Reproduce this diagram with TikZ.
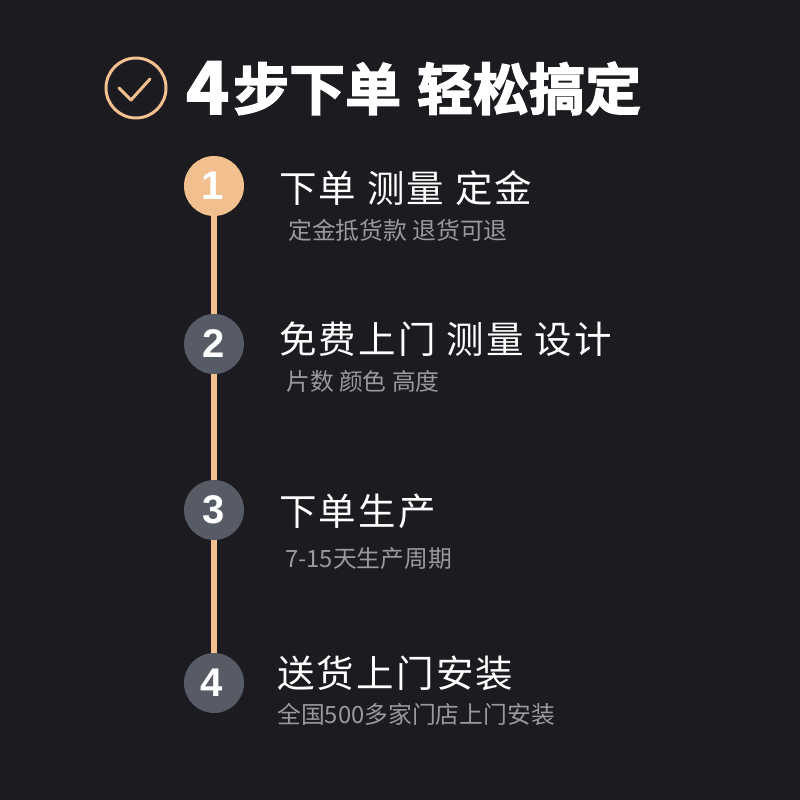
\documentclass[tikz,border=0pt]{standalone}
\usepackage{fontspec}
\setmainfont{Liberation Sans}
\newfontfamily\cjk{Noto Sans CJK SC}
\newfontfamily\cjkh[LetterSpace=6]{Noto Sans CJK SC}
\newfontfamily\cjkb[FakeBold=2.5]{Noto Sans CJK SC Bold}
\definecolor{bg}{HTML}{1B1B20}
\definecolor{peach}{HTML}{F2C08F}
\definecolor{slate}{HTML}{565B65}
\definecolor{subt}{HTML}{9A9A9C}
\tikzset{
 stepdot/.style={circle,minimum size=60pt,inner sep=0pt,fill=slate,text=white,font=\fontsize{40}{40}\selectfont\bfseries},
 headtxt/.style={anchor=west,inner sep=0pt,text=white,font=\cjkh\fontsize{37.5}{40}\selectfont},
 subtxt/.style={anchor=west,inner sep=0pt,text=subt,font=\cjk\fontsize{23.8}{26}\selectfont},
}
\begin{document}
\begin{tikzpicture}[x=1pt,y=-1pt]
\useasboundingbox (0,0) rectangle (800,800);
\fill[bg] (0,0) rectangle (800,800);
\node[circle,draw=peach,line width=3pt,minimum size=60pt,inner sep=0pt] (chk) at (136,88) {};
\coordinate (c1) at (119,88);
\coordinate (c2) at (131,100);
\coordinate (c3) at (150,79);
\draw[peach,line width=3pt,line cap=round,line join=round] (c1)--(c2)--(c3);
\node[anchor=base west,inner sep=0pt,text=white,font=\cjkb\fontsize{56}{60}\selectfont] (title) at (186,110) {\raisebox{-4pt}{\scalebox{1.3}[1.3]{4}}\hspace{4pt}步下单\hspace{16pt}轻松搞定};
\draw[peach,line width=6pt] (214,186)--(214,344);
\draw[peach,line width=6pt] (214,344)--(214,510);
\draw[peach,line width=6pt] (214,510)--(214,683);
\node[stepdot,fill=peach] (n1) at (214,186) {\hspace{-3pt}1};
\node[stepdot] (n2) at (214,344) {2};
\node[stepdot] (n3) at (214,510) {3};
\node[stepdot] (n4) at (214,683) {\hspace{-4pt}4};
\node[headtxt] (h1) at (279,188) {下单 测量 定金};
\node[subtxt] (s1) at (288,230) {定金抵货款 退货可退};
\node[headtxt] (h2) at (279,339) {免费上门 测量 设计};
\node[subtxt] (s2) at (286,381) {片数 颜色 高度};
\node[headtxt] (h3) at (279,511) {下单生产};
\node[subtxt] (s3) at (285,559) {7-15天生产周期};
\node[headtxt] (h4) at (277,673) {送货上门安装};
\node[subtxt] (s4) at (277,714) {全国500多家门店上门安装};
\end{tikzpicture}
\end{document}
